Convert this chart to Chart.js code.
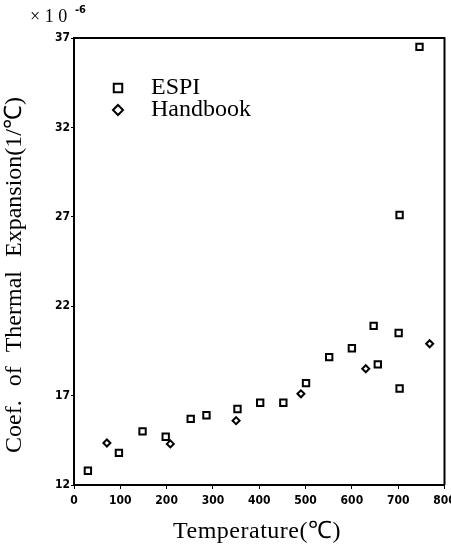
<!DOCTYPE html>
<html>
<head>
<meta charset="utf-8">
<script src="https://cdn.jsdelivr.net/npm/chart.js@4.4.1/dist/chart.umd.min.js"></script>
<style>
  html, body { margin: 0; padding: 0; background: #fff; }
  #wrap { width: 451px; height: 548px; position: relative; }
</style>
</head>
<body>
<div id="wrap"><canvas id="cte"></canvas></div>
<script>
// Coefficient of thermal expansion vs temperature (values x 1e-6 per degC)
const espiTemp = [30, 97, 148, 198, 252, 286, 353, 402, 452, 501, 551, 600, 647, 656, 701, 703, 703, 746];
const espiCoef = [12.8, 13.8, 15.0, 14.7, 15.7, 15.9, 16.25, 16.6, 16.6, 17.7, 19.15, 19.65, 20.9, 18.75, 20.5, 17.4, 27.1, 36.5];
const handTemp = [71, 208, 350, 490, 630, 768];
const handCoef = [14.35, 14.3, 15.6, 17.1, 18.5, 19.9];
const xTicks = [0, 100, 200, 300, 400, 500, 600, 700, 800];
const yTicks = [12, 17, 22, 27, 32, 37];

const serif = "'Liberation Serif', 'Times New Roman', serif";
const tickFont = "'DejaVu Sans Condensed', 'Liberation Sans Narrow', sans-serif";

function toPoints(xs, ys) {
    return xs.map((x, i) => ({ x: x, y: ys[i] }));
}

// titles, exponent note and the in-plot legend
const annotate = {
    id: 'annotate',
    afterDraw(chart) {
        const ctx = chart.ctx;
        ctx.save();
        ctx.fillStyle = '#000';

        ctx.font = '24px ' + serif;
        ctx.textAlign = 'center';
        ctx.textBaseline = 'middle';
        ctx.letterSpacing = '0.5px';
        ctx.fillText('Temperature(℃)', 257, 532);
        ctx.letterSpacing = '0px';

        ctx.save();
        ctx.translate(15, 275);
        ctx.rotate(-Math.PI / 2);
        ctx.font = '24px ' + serif;
        ctx.wordSpacing = '8px';
        ctx.fillText('Coef. of Thermal Expansion(1/℃)', 0, 0);
        ctx.restore();

        ctx.font = '18px ' + serif;
        ctx.textAlign = 'left';
        ctx.fillText('× 1 0', 30, 17);
        ctx.font = 'bold 11px ' + tickFont;
        ctx.fillText('-6', 75, 10);

        const items = [
            { label: 'ESPI', style: 'rect', radius: 6 },
            { label: 'Handbook', style: 'rectRot', radius: 5 }
        ];
        items.forEach((it, i) => {
            const y = 88 + i * 22;
            ctx.lineWidth = 2;
            ctx.strokeStyle = '#000';
            ctx.fillStyle = '#fff';
            Chart.helpers.drawPoint(ctx, { pointStyle: it.style, radius: it.radius, borderWidth: 2 }, 118, y);
            ctx.fillStyle = '#000';
            ctx.font = '24px ' + serif;
            ctx.textAlign = 'left';
            ctx.fillText(it.label, 151, y);
        });
        ctx.restore();
    }
};

new Chart(document.getElementById('cte').getContext('2d'), {
    type: 'scatter',
    data: {
        datasets: [{
            label: 'ESPI',
            data: toPoints(espiTemp, espiCoef),
            pointStyle: 'rect',
            pointRadius: 4.5,
            pointBorderWidth: 2,
            borderColor: '#000',
            backgroundColor: '#fff'
        }, {
            label: 'Handbook',
            data: toPoints(handTemp, handCoef),
            pointStyle: 'rectRot',
            pointRadius: 3.5,
            pointBorderWidth: 2,
            borderColor: '#000',
            backgroundColor: '#fff'
        }]
    },
    options: {
        responsive: true,
        maintainAspectRatio: false,
        animation: false,
        layout: { padding: { top: 38, right: 5, left: 0, bottom: 0 } },
        plugins: {
            legend: { display: false },
            tooltip: { enabled: false }
        },
        scales: {
            x: {
                type: 'linear',
                min: 0,
                max: 800,
                afterFit: function(scale) {
                    scale.height = 63;
                    scale.paddingLeft = 0;
                    scale.paddingRight = 0;
                },
                afterBuildTicks: function(scale) { scale.ticks = xTicks.map(v => ({ value: v })); },
                border: { color: '#000', width: 2 },
                grid: { drawOnChartArea: false, color: '#000', tickLength: 4 },
                ticks: {
                    color: '#000',
                    padding: 5,
                    maxRotation: 0,
                    font: { family: tickFont, size: 12, weight: 'bold' }
                }
            },
            y: {
                type: 'linear',
                min: 12,
                max: 37,
                afterFit: function(scale) {
                    scale.width = 74;
                    scale.paddingTop = 0;
                    scale.paddingBottom = 0;
                },
                afterBuildTicks: function(scale) { scale.ticks = yTicks.map(v => ({ value: v })); },
                border: { color: '#000', width: 2 },
                grid: { drawOnChartArea: false, color: '#000', tickLength: 3 },
                ticks: {
                    color: '#000',
                    padding: 1,
                    font: { family: tickFont, size: 12, weight: 'bold' }
                }
            }
        }
    },
    plugins: [annotate, {
        // closing top and right frame lines
        id: 'frame',
        afterDraw(chart) {
            const a = chart.chartArea;
            const ctx = chart.ctx;
            ctx.save();
            ctx.strokeStyle = '#000';
            ctx.lineWidth = 2;
            ctx.beginPath();
            ctx.moveTo(a.left, a.top);
            ctx.lineTo(a.right, a.top);
            ctx.lineTo(a.right, a.bottom);
            ctx.stroke();
            ctx.restore();
        }
    }]
});
</script>
</body>
</html>
